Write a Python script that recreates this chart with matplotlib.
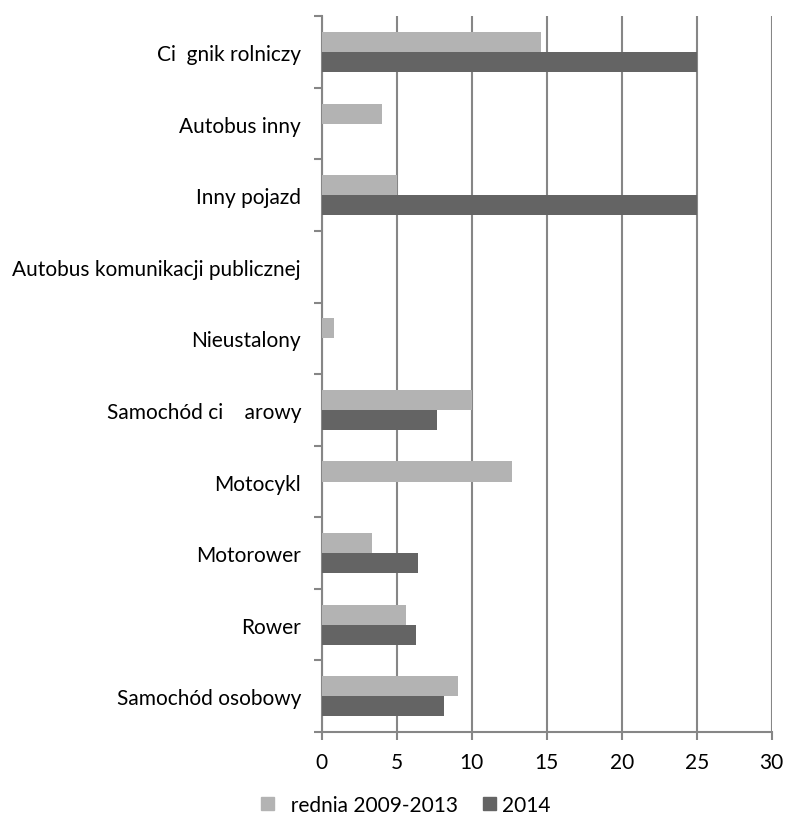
import numpy as np
import matplotlib.pyplot as plt
from matplotlib.patches import Patch

plt.rcParams['font.family'] = ['Lato', 'DejaVu Sans']

# Categories from bottom to top (as drawn)
categories = ['Samochód osobowy', 'Rower', 'Motorower', 'Motocykl',
              'Samochód ci    arowy', 'Nieustalony',
              'Autobus komunikacji publicznej', 'Inny pojazd',
              'Autobus inny', 'Ci  gnik rolniczy']
avg_2009_2013 = [9.1, 5.6, 3.35, 12.7, 10.0, 0.8, 0.0, 5.0, 4.0, 14.6]
values_2014 = [8.15, 6.3, 6.4, 0.0, 7.7, 0.0, 0.0, 25.0, 0.0, 25.0]
series_labels = ['  rednia 2009-2013', '2014']

light = '#b3b3b3'
dark = '#646464'
grid_col = '#868686'

fig = plt.figure(figsize=(7.85, 8.2), dpi=100)
ax = fig.add_axes([0.410, 0.106, 0.573, 0.873])

y = np.arange(len(categories))
h = 0.28
ax.barh(y + h / 2, avg_2009_2013, height=h, color=light, zorder=3)
ax.barh(y - h / 2, values_2014, height=h, color=dark, zorder=3)

ax.set_xlim(0, 30)
ax.set_ylim(-0.5, len(categories) - 0.5)
ax.set_xticks(np.arange(0, 31, 5))
ax.set_yticks(y)
ax.set_yticklabels(categories)
ax.set_yticks(np.arange(-0.5, len(categories), 1), minor=True)
ax.tick_params(axis='y', which='major', length=0, pad=15, labelsize=15)
ax.tick_params(axis='y', which='minor', length=6, width=1.5, color=grid_col)
ax.tick_params(axis='x', length=6, width=1.5, color=grid_col, labelsize=15, pad=8)

ax.xaxis.grid(True, color=grid_col, linewidth=1.5, zorder=0)
for s in ['top', 'right']:
    ax.spines[s].set_visible(False)
for s in ['left', 'bottom']:
    ax.spines[s].set_color(grid_col)
    ax.spines[s].set_linewidth(1.5)

handles = [Patch(color=light), Patch(color=dark)]
fig.legend(handles, series_labels, loc='lower center', ncol=2,
           bbox_to_anchor=(0.517, -0.018), frameon=False, fontsize=15,
           handlelength=0.6, handleheight=0.6, handletextpad=0.3,
           columnspacing=1.2)

fig.savefig('out.png', dpi=100)
